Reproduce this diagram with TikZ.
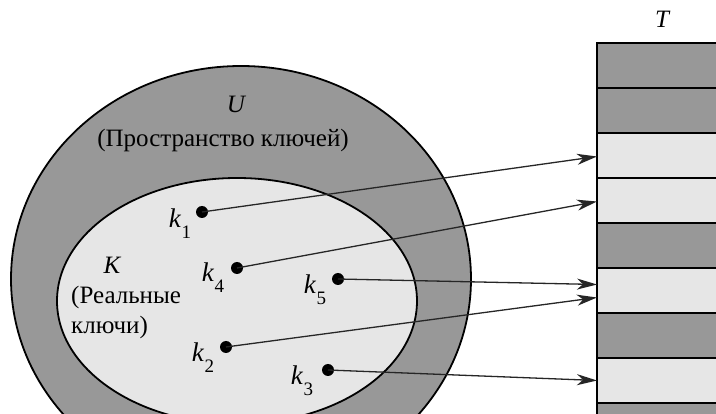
\documentclass[tikz,border=0pt]{standalone}
\usepackage{fontspec}
\setmainfont{Liberation Serif}
\usetikzlibrary{arrows.meta}
\definecolor{dk}{RGB}{152,152,152}
\definecolor{lt}{RGB}{230,230,230}
\newcommand{\kk}[1]{\textit{k}\kern0.5pt\raisebox{-0.4em}{\fontsize{19}{19}\selectfont #1}}
\begin{document}
\begin{tikzpicture}[x=1pt,y=-1pt,
  cell/.style={draw=black, line width=1.6pt, rectangle, minimum width=150pt, minimum height=45pt, anchor=north west, inner sep=0pt, outer sep=0pt},
  darkcell/.style={cell, fill=dk},
  lightcell/.style={cell, fill=lt},
  keydot/.style={circle, fill=black, inner sep=0pt, minimum size=12pt},
  link/.style={line width=1.3pt, draw=black!85, -{Stealth[length=20pt,width=11pt,inset=6pt]}},
  txt/.style={font=\fontsize{25}{27}\selectfont, inner sep=0pt},
  itxt/.style={font=\fontsize{25}{27}\selectfont\itshape, inner sep=0pt},
  klab/.style={font=\fontsize{27}{28}\selectfont, inner sep=0pt}]
\clip (0,0) rectangle (716,414);
\fill[white] (0,0) rectangle (716,414);
% universe and actual keys
\draw[line width=1.8pt, fill=dk] (241,279) ellipse [x radius=230pt, y radius=213pt];
\draw[line width=1.8pt, fill=lt] (237,301) ellipse [x radius=180pt, y radius=123pt];
% table
\node[darkcell]  (c1) at (597,43)  {};
\node[darkcell]  (c2) at (597,88)  {};
\node[lightcell] (c3) at (597,133) {};
\node[lightcell] (c4) at (597,178) {};
\node[darkcell]  (c5) at (597,223) {};
\node[lightcell] (c6) at (597,268) {};
\node[darkcell]  (c7) at (597,313) {};
\node[lightcell] (c8) at (597,358) {};
\node[darkcell]  (c9) at (597,403) {};
\node[itxt] (T) at (662,19) {T};
% labels
\node[itxt] (U) at (236,104) {U};
\node[txt] (Ut) at (223,140) {(Пространство ключей)};
\node[itxt] (K) at (112,265) {K};
\node[txt, anchor=west] (Kt1) at (71,297) {(Реальные};
\node[txt, anchor=west] (Kt2) at (71,327) {ключи)};
% keys
\node[keydot] (k1) at (202,212) {};
\node[keydot] (k4) at (237,268) {};
\node[keydot] (k5) at (338,279) {};
\node[keydot] (k2) at (226,347) {};
\node[keydot] (k3) at (328,370) {};
\node[klab] (l1) at (180,224) {\kk{1}};
\node[klab] (l4) at (213,278) {\kk{4}};
\node[klab] (l5) at (315,290) {\kk{5}};
\node[klab] (l2) at (203,358) {\kk{2}};
\node[klab] (l3) at (302,381) {\kk{3}};
% links
\draw[link] (k1.center) -- ([yshift=-1pt]c3.west);
\draw[link] (k4.center) -- ([yshift=-1pt]c4.west);
\draw[link] (k5.center) -- ([yshift=6pt]c6.west);
\draw[link] (k2.center) -- ([yshift=-7pt]c6.west);
\draw[link] (k3.center) -- (c8.west);
\end{tikzpicture}
\end{document}
